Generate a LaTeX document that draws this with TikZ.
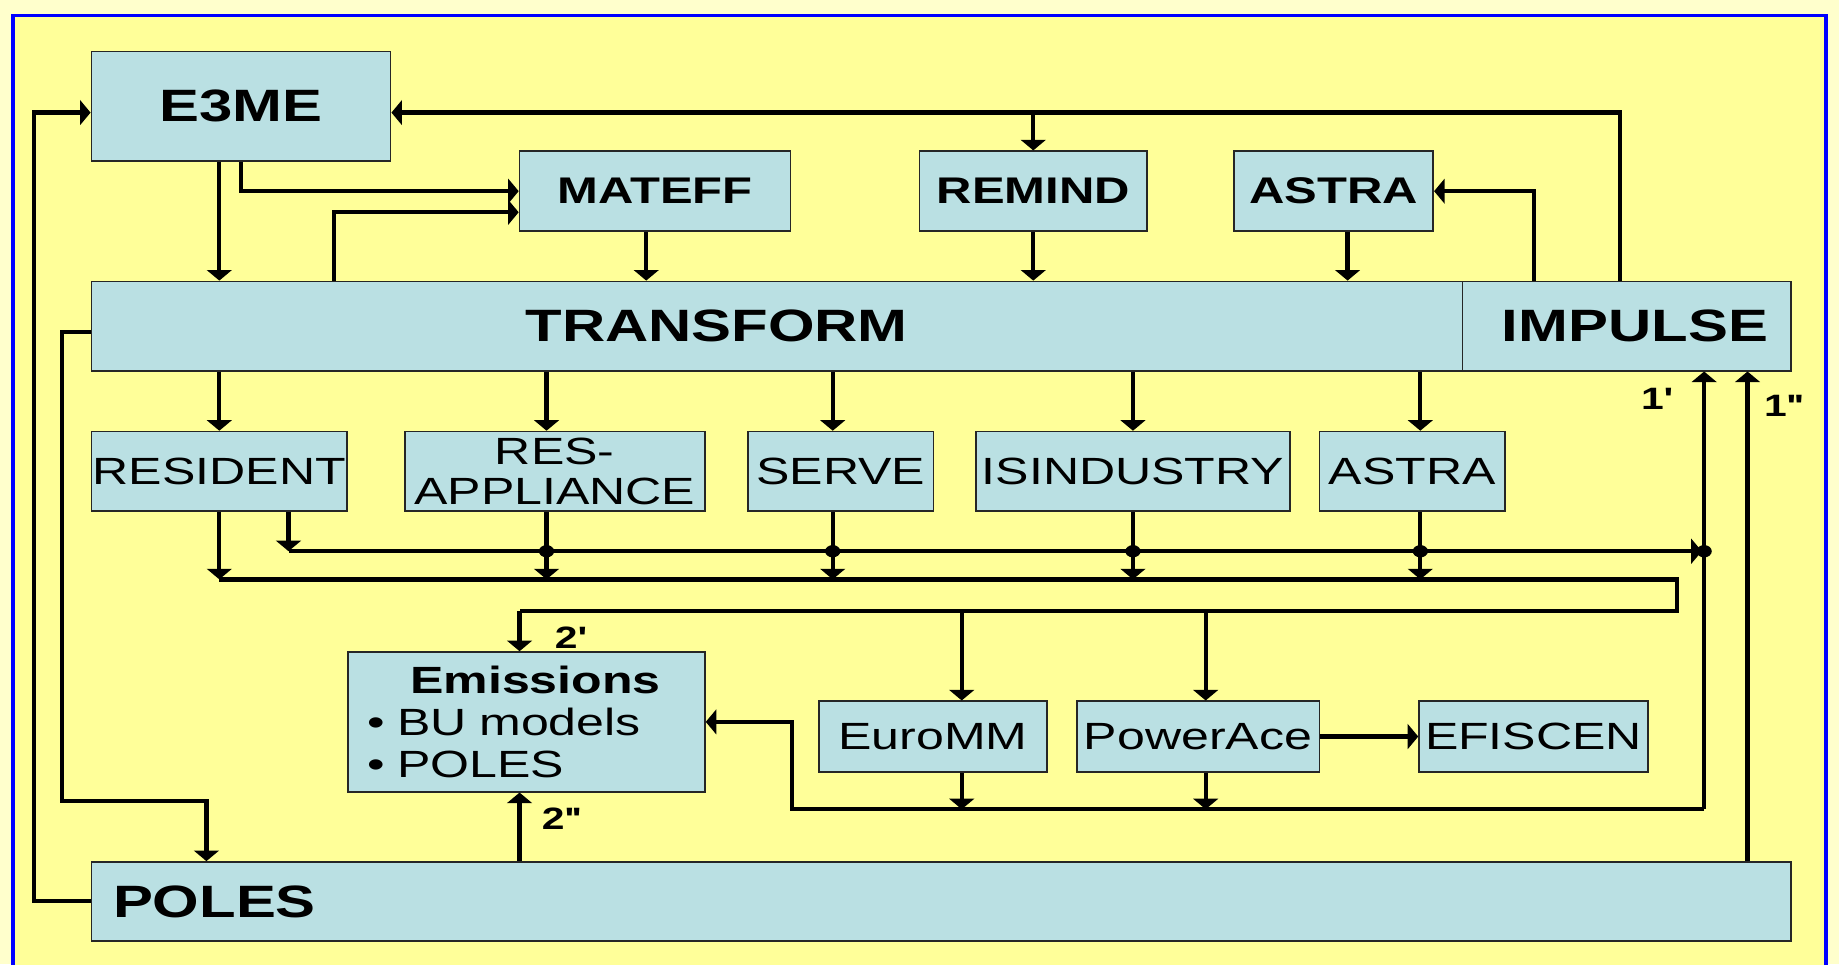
\documentclass[tikz,border=0pt]{standalone}
\usepackage{fontspec}
\setmainfont{Liberation Sans}[FakeStretch=1.32]
\usetikzlibrary{arrows.meta}
\definecolor{pale}{HTML}{FFFFCC}
\definecolor{yel}{HTML}{FFFF99}
\definecolor{boxc}{RGB}{186,224,227}
\tikzset{
 mbox/.style={draw=black!85, line width=0.3mm, fill=boxc, inner sep=0pt, align=center},
 big/.style={font=\fontsize{22}{24}\selectfont\bfseries},
 mid/.style={font=\fontsize{18}{20}\selectfont\bfseries},
 reg/.style={font=\fontsize{18.4}{20}\selectfont},
 conn/.style={line width=0.72mm, line join=miter},
 arr/.style={conn, -{Triangle[width=4.2mm,length=1.8mm]}},
 lab/.style={font=\fontsize{15}{16}\selectfont\bfseries, inner sep=0pt}
}
\begin{document}
\begin{tikzpicture}[x=0.2mm,y=-0.2mm]
\useasboundingbox (0,0) rectangle (1568,822);
\clip (0,0) rectangle (1568,822);
\fill[pale] (0,0) rectangle (1568,822);
\fill[yel,draw=blue,line width=0.56mm] (11,13) rectangle (1557,850);

% boxes
\node[mbox,big,minimum width=51mm,minimum height=18.6mm] (e3me) at (205.5,90.5) {E3ME};
\node[mbox,mid,minimum width=46.2mm,minimum height=13.6mm] (mateff) at (558.5,163) {MATEFF};
\node[mbox,mid,minimum width=38.8mm,minimum height=13.6mm] (remind) at (881,163) {REMIND};
\node[mbox,mid,minimum width=34mm,minimum height=13.6mm] (astraT) at (1137,163) {ASTRA};
\node[mbox,minimum width=233.8mm,minimum height=15.2mm] (transform) at (662.5,278) {};
\node[big,inner sep=0pt] (transformtxt) at (611,278) {TRANSFORM};
\node[mbox,big,minimum width=56mm,minimum height=15.2mm] (impulse) at (1387,278) {\hspace*{2.8mm}IMPULSE};

\node[mbox,reg,minimum width=43.6mm,minimum height=13.6mm] (resident) at (187,402) {RESIDENT};
\node[mbox,reg,minimum width=51.2mm,minimum height=13.6mm,font=\fontsize{18.4}{19.8}\selectfont] (resapp) at (473,402) {RES-\\APPLIANCE};
\node[mbox,reg,minimum width=31.6mm,minimum height=13.6mm] (serve) at (717,402) {SERVE};
\node[mbox,reg,minimum width=53.6mm,minimum height=13.6mm] (isind) at (966,402) {ISINDUSTRY};
\node[mbox,reg,minimum width=31.6mm,minimum height=13.6mm] (astraB) at (1204,402) {ASTRA};

\node[mbox,minimum width=60.8mm,minimum height=23.8mm,text width=54.4mm,align=left,
      font=\fontsize{18.4}{20.5}\selectfont] (emis) at (449,615.5)
  {{\centering\hspace*{3mm}\bfseries Emissions\par}• BU models\\• POLES};
\node[mbox,reg,minimum width=39mm,minimum height=12mm] (euromm) at (795.5,628) {EuroMM};
\node[mbox,reg,minimum width=41.4mm,minimum height=12mm] (powerace) at (1021.5,628) {PowerAce};
\node[mbox,reg,minimum width=39mm,minimum height=12mm] (efiscen) at (1307.5,628) {EFISCEN};
\node[mbox,minimum width=289.8mm,minimum height=13.4mm] (poles) at (802.5,768.5) {};
\node[big,inner sep=0pt,anchor=west] (polestxt) at (96,769) {POLES};

% helper coordinates
\coordinate (lo) at (29,96);
\coordinate (l2a) at (53,283);
\coordinate (l2b) at (176,683);
\coordinate (x187) at (187,0);
\coordinate (x205) at (205.5,0);
\coordinate (k5) at (285,181);
\coordinate (x551) at (551,0);
\coordinate (k7) at (1381,96);
\coordinate (x1308) at (1308,0);
\coordinate (x1149) at (1149,0);
\coordinate (b1s) at (246,470);
\coordinate (b1e) at (1451,470);
\coordinate (b2s) at (187,494);
\coordinate (b2r) at (1430,494);
\coordinate (b2rb) at (1430,521);
\coordinate (b2l) at (443,521);
\coordinate (x820) at (820,0);
\coordinate (x1028) at (1028,0);
\coordinate (b3r) at (1453,690);
\coordinate (b3l) at (675,690);
\coordinate (x1490) at (1490,0);

% left loops
\draw[arr] (poles.west) -| (lo) -- (e3me.west |- lo);
\draw[arr] (transform.west |- l2a) -- (l2a) |- (l2b) -- (poles.north -| l2b);

% top connectors
\draw[arr] (e3me.south -| x187) -- (transform.north -| x187);
\draw[arr] (e3me.south -| x205) |- (mateff.west);
\draw[arr] (transform.north -| k5) -- (k5) -- (mateff.west |- k5);
\draw[arr] (mateff.south -| x551) -- (transform.north -| x551);
\draw[arr] (impulse.north -| k7) -- (k7) -- (e3me.east |- k7);
\draw[arr] (remind.north |- k7) -- (remind.north);
\draw[arr] (remind.south) -- (transform.north -| remind.south);
\draw[arr] (impulse.north -| x1308) |- (astraT.east);
\draw[arr] (astraT.south -| x1149) -- (transform.north -| x1149);

% transform to sector models and down to bus 2
\foreach \n/\x in {resident/187,resapp/466,serve/710,isind/966,astraB/1211} {
  \coordinate (xx) at (\x,0);
  \draw[arr] (transform.south -| xx) -- (\n.north -| xx);
  \draw[arr] (\n.south -| xx) -- (b2s -| xx);
}

% bus 1
\draw[arr] (resident.south -| b1s) -- (b1s);
\draw[arr] (b1s) -- (b1e);
\foreach \x in {466,710,966,1211,1453} {
  \fill (\x,470) ellipse [x radius=1.3mm, y radius=1.05mm];
}

% bus 2
\draw[conn] (b2s) -- (b2r) -- (b2rb) -- (b2l);
\draw[arr] (b2l) -- (emis.north -| b2l);
\draw[arr] (b2l -| x820) -- (euromm.north -| x820);
\draw[arr] (b2l -| x1028) -- (powerace.north -| x1028);

% bottom bus
\draw[arr] (euromm.south -| x820) -- (b3l -| x820);
\draw[arr] (powerace.south -| x1028) -- (b3l -| x1028);
\draw[arr] (b3r) -- (b3l) |- (emis.east);
\draw[arr] (b3r) -- (impulse.south -| b3r);
\draw[arr] (poles.north -| x1490) -- (impulse.south -| x1490);
\draw[arr] (poles.north -| b2l) -- (emis.south -| b2l);
\draw[arr] (powerace.east) -- (efiscen.west);

% labels
\node[lab] (lab1a) at (1412,340) {1\textquotesingle};
\node[lab] (lab1b) at (1520,346) {1\textquotesingle\textquotesingle};
\node[lab] (lab2a) at (486,544) {2\textquotesingle};
\node[lab] (lab2b) at (478,698) {2\textquotesingle\textquotesingle};
\end{tikzpicture}
\end{document}
